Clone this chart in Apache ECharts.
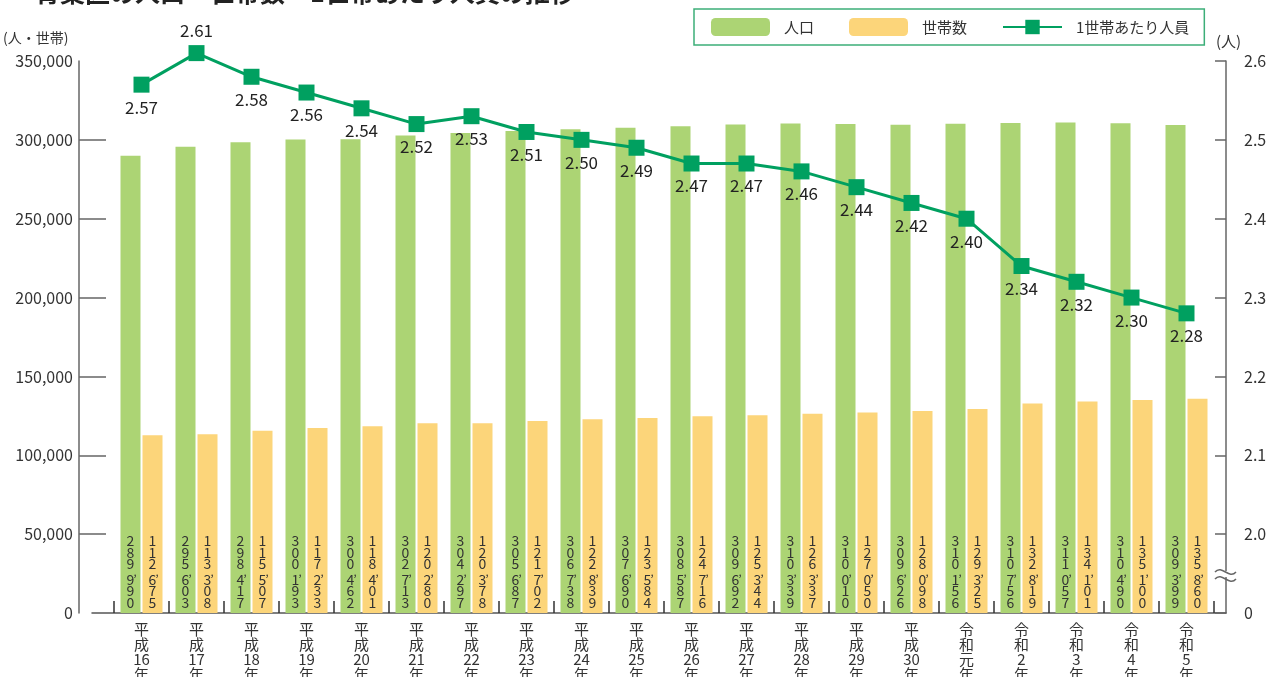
<!DOCTYPE html>
<html>
<head>
<meta charset="utf-8">
<script src="https://cdn.jsdelivr.net/npm/echarts@6/dist/echarts.min.js"></script>
<style>
html,body{margin:0;padding:0;background:#fff;}
#main{width:1269px;height:677px;}
</style>
</head>
<body>
<div id="main"></div>
<script>
const categories = ['平成16年','平成17年','平成18年','平成19年','平成20年','平成21年','平成22年','平成23年','平成24年','平成25年','平成26年','平成27年','平成28年','平成29年','平成30年','令和元年','令和2年','令和3年','令和4年','令和5年'];
const population = [289990,295603,298417,300193,300462,302713,304297,305687,306738,307690,308587,309692,310339,310010,309626,310156,310756,311057,310490,309399];
const households = [112675,113308,115507,117233,118401,120280,120378,121702,122839,123584,124716,125344,126337,127050,128098,129325,132819,134101,135100,135860];
const perHousehold = [2.57,2.61,2.58,2.56,2.54,2.52,2.53,2.51,2.50,2.49,2.47,2.47,2.46,2.44,2.42,2.40,2.34,2.32,2.30,2.28];
const leftTicks = [0,50000,100000,150000,200000,250000,300000,350000];
const rightTicks = [1.9,2.0,2.1,2.2,2.3,2.4,2.5,2.6];
const seriesNames = ['人口','世帯数','1世帯あたり人員'];
const titleText = '青葉区の人口・世帯数・1世帯あたり人員の推移';

const FONT = '"Noto Sans CJK JP", "Noto Sans", sans-serif';
const GREEN = '#acd474', YELLOW = '#fcd57a', LINE = '#00a060', AXIS = '#666';

function vertLabel(v) {
  const s = Number(v).toLocaleString('en-US');
  return s.split('').map(c => c === ',' ? '{c|,}' : '{d|' + c + '}').join('\n');
}
const barLabel = {
  show: true, position: 'insideBottom', distance: 5,
  formatter: p => vertLabel(p.value),
  rich: {
    d: { fontSize: 14, lineHeight: 11.5, color: '#333', fontFamily: FONT },
    c: { fontSize: 11, lineHeight: 4, color: '#333', fontFamily: FONT, padding: [0, 0, 0, 9] }
  }
};

const chart = echarts.init(document.getElementById('main'));
chart.setOption({
  animation: false,
  textStyle: { fontFamily: FONT },
  legend: {
    left: 694, top: 9, orient: 'horizontal',
    padding: [9, 15, 9, 17],
    itemWidth: 59, itemHeight: 18, itemGap: 35,
    borderColor: '#3cae78', borderWidth: 1.5,
    textStyle: { fontSize: 15, color: '#333', padding: [0, 0, 0, 9] },
    data: seriesNames
  },
  grid: [
    { left: 114, right: 55, top: 61, bottom: 64, outerBoundsMode: 'none', containLabel: false },
    { left: 92, right: 43, top: 61, bottom: 64, outerBoundsMode: 'none', containLabel: false }
  ],
  xAxis: [
    {
      type: 'category', gridIndex: 0, data: categories,
      axisLine: { show: false },
      axisTick: { show: true, inside: true, length: 12, lineStyle: { color: '#333', width: 1.5 } },
      axisLabel: {
        margin: 9, fontSize: 15, lineHeight: 15, color: '#333', interval: 0,
        formatter: v => v.match(/\d+|./g).join('\n')
      }
    },
    {
      type: 'value', gridIndex: 1, min: 0, max: 1,
      axisLine: { show: true, onZero: false, lineStyle: { color: '#555', width: 1.5 } },
      axisTick: { show: false }, axisLabel: { show: false }, splitLine: { show: false }
    }
  ],
  yAxis: [
    {
      type: 'value', gridIndex: 0, position: 'left', offset: 35,
      min: leftTicks[0], max: leftTicks[leftTicks.length - 1], interval: 50000,
      axisLine: { show: true, lineStyle: { color: AXIS, width: 1.5 } },
      axisTick: { show: true, inside: true, length: 27, lineStyle: { color: AXIS, width: 1.5 },
        customValues: leftTicks.slice(1, -1) },
      axisLabel: { fontSize: 16, color: '#333', margin: 6, formatter: v => Number(v).toLocaleString('en-US') },
      splitLine: { show: false }
    },
    {
      type: 'value', gridIndex: 0, position: 'right', offset: 12,
      min: rightTicks[0], max: rightTicks[rightTicks.length - 1], interval: 0.1,
      axisLine: { show: true, lineStyle: { color: AXIS, width: 1.5 } },
      axisTick: { show: true, inside: true, length: 11, lineStyle: { color: AXIS, width: 1.5 } },
      axisLabel: { fontSize: 16, color: '#333', margin: 18, formatter: v => v < 1.95 ? '0' : v.toFixed(1) },
      splitLine: { show: false }
    },
    {
      type: 'value', gridIndex: 1, min: 0, max: 1,
      axisLine: { show: false }, axisTick: { show: false }, axisLabel: { show: false }, splitLine: { show: false }
    }
  ],
  series: [
    {
      name: seriesNames[0], type: 'bar', xAxisIndex: 0, yAxisIndex: 0,
      data: population, barWidth: 20, barGap: '10%',
      itemStyle: { color: GREEN }, label: barLabel
    },
    {
      name: seriesNames[1], type: 'bar', xAxisIndex: 0, yAxisIndex: 0,
      data: households, barWidth: 20, barGap: '10%',
      itemStyle: { color: YELLOW }, label: barLabel
    },
    {
      name: seriesNames[2], type: 'line', xAxisIndex: 0, yAxisIndex: 1,
      data: perHousehold.map((v, i) => i === 1 ? { value: v, label: { position: 'top' } } : v),
      symbol: 'rect', symbolSize: 16, z: 5, clip: false,
      lineStyle: { color: LINE, width: 3 }, itemStyle: { color: LINE },
      label: { show: true, position: 'bottom', distance: 6, fontSize: 17, color: '#222',
        formatter: p => Number(p.value).toFixed(2) }
    }
  ],
  graphic: [
    { type: 'text', x: 35, y: 5, silent: true,
      style: { text: titleText, font: 'bold 25px ' + FONT, fill: '#222', verticalAlign: 'bottom' } },
    { type: 'text', x: 3, y: 38, silent: true,
      style: { text: '(人・世帯)', font: '14px ' + FONT, fill: '#333', verticalAlign: 'middle' } },
    { type: 'text', x: 1216, y: 41, silent: true,
      style: { text: '(人)', font: '15px ' + FONT, fill: '#333', verticalAlign: 'middle' } },
    { type: 'rect', silent: true, z: 100, shape: { x: 1220, y: 571, width: 12, height: 6 }, style: { fill: '#fff' } },
    { type: 'bezierCurve', silent: true, z: 101,
      shape: { x1: 1215, y1: 572, cpx1: 1222, cpy1: 564, cpx2: 1229, cpy2: 580, x2: 1236, y2: 572 },
      style: { stroke: AXIS, fill: null, lineWidth: 1.5 } },
    { type: 'bezierCurve', silent: true, z: 101,
      shape: { x1: 1215, y1: 579, cpx1: 1222, cpy1: 571, cpx2: 1229, cpy2: 587, x2: 1236, y2: 579 },
      style: { stroke: AXIS, fill: null, lineWidth: 1.5 } }
  ]
});
</script>
</body>
</html>
